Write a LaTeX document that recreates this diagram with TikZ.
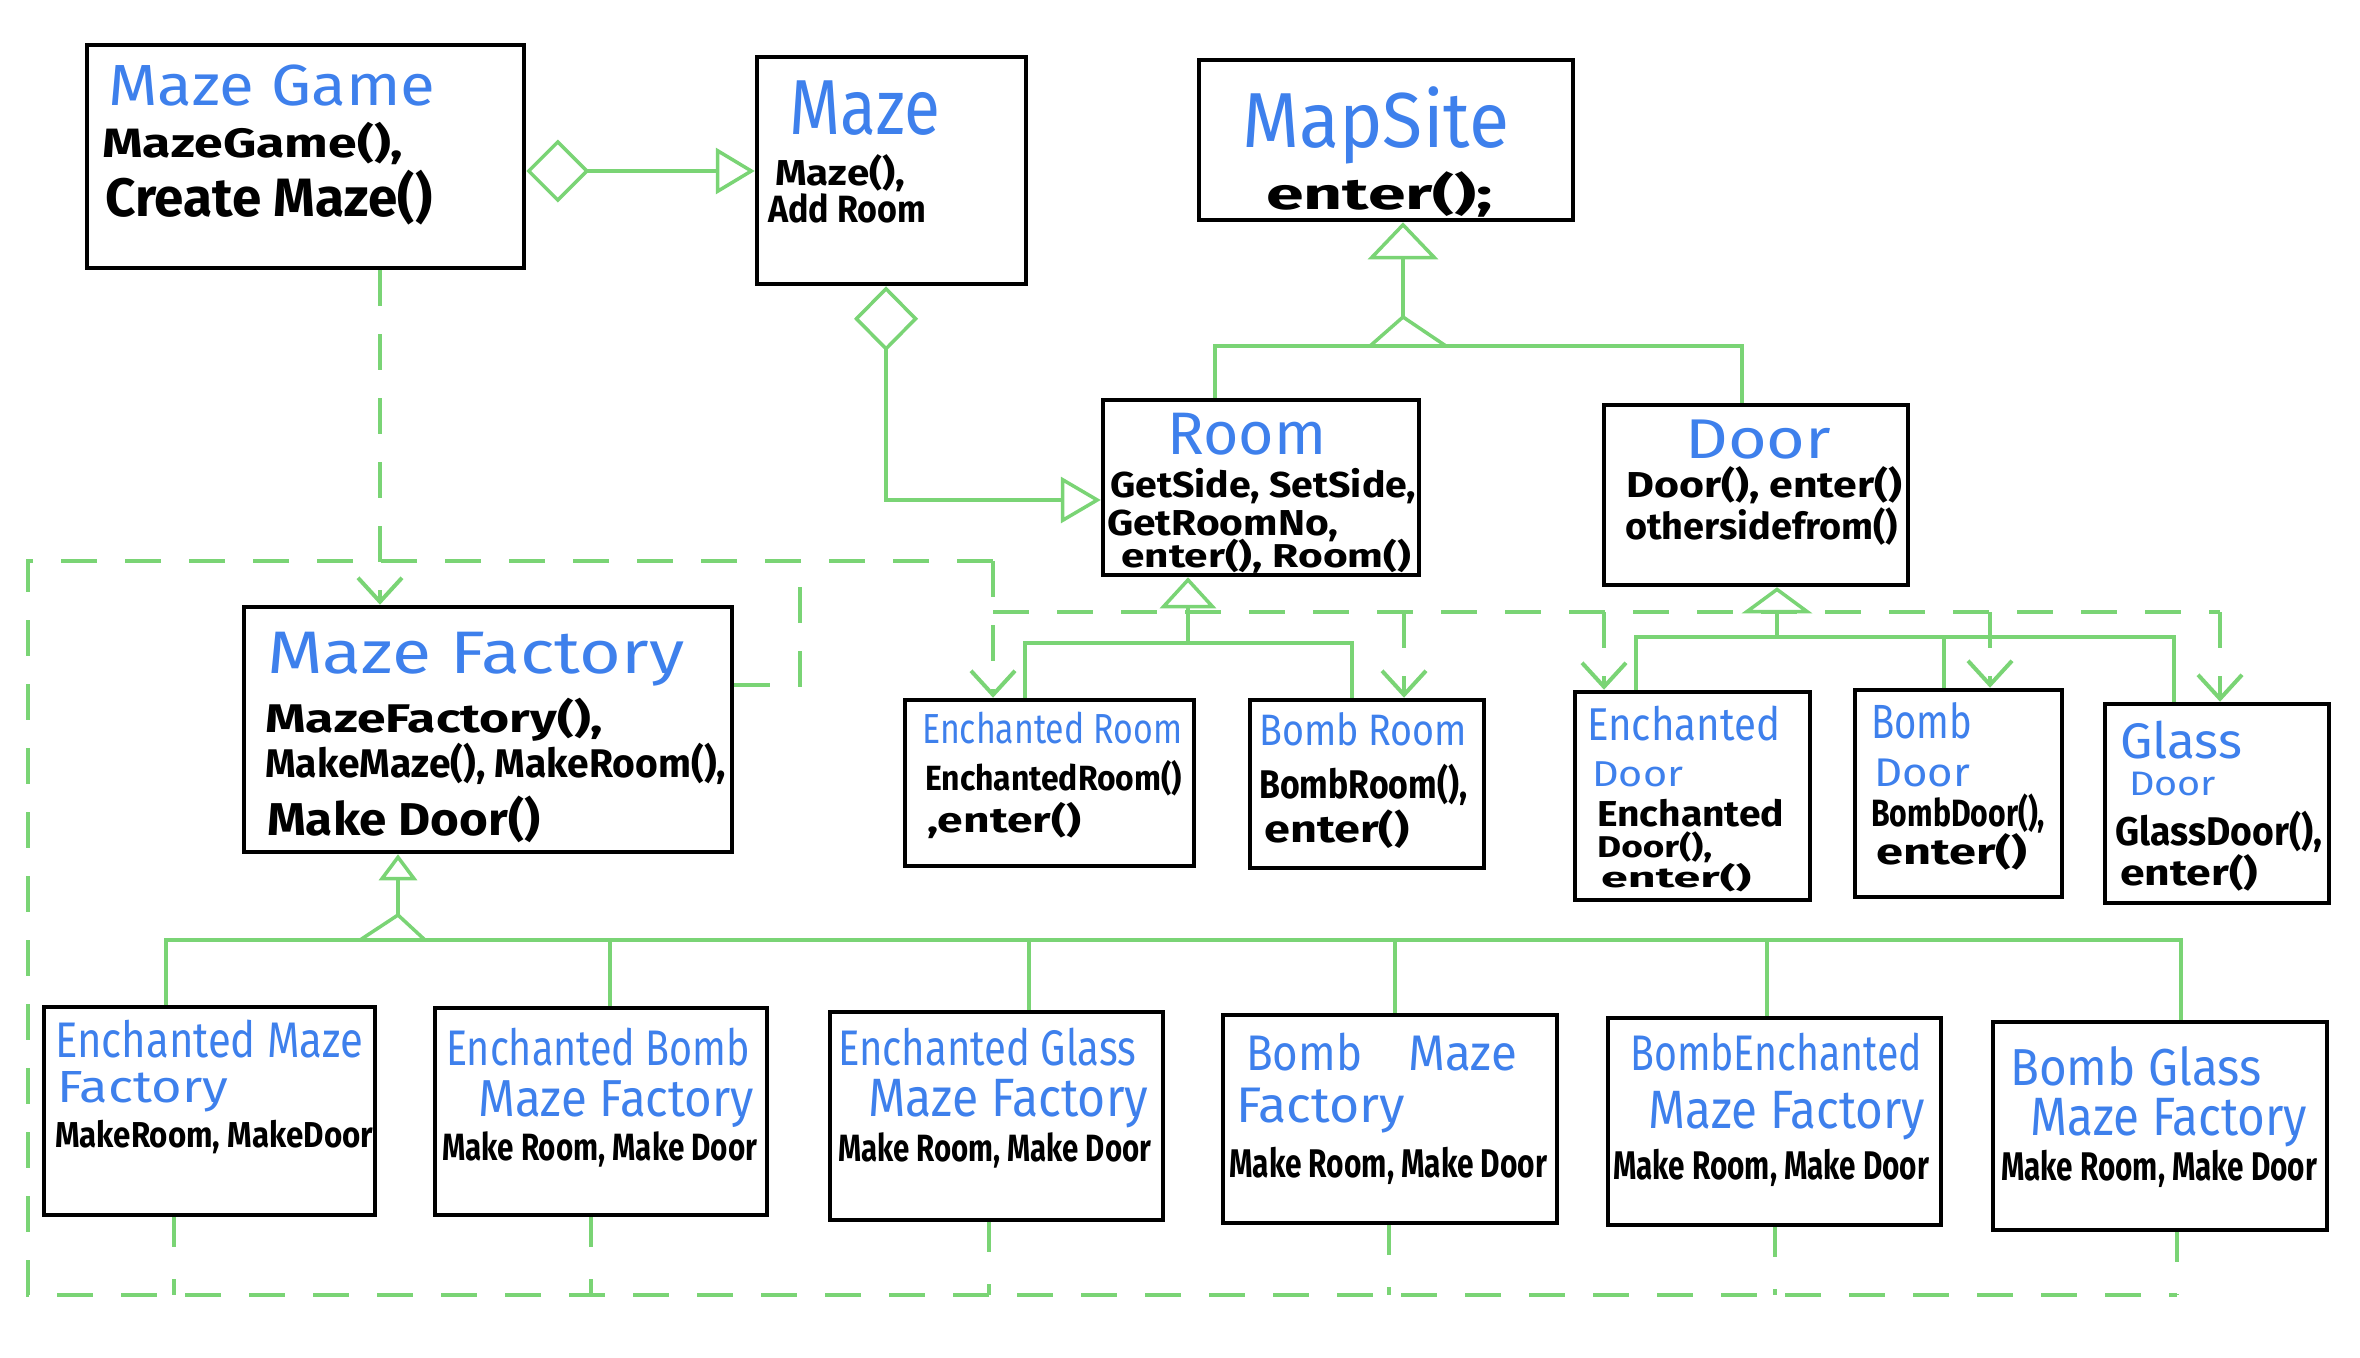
\documentclass[tikz,border=0pt]{standalone}
\usepackage{fontspec}
\setmainfont{Fira Sans}
\usepackage{graphicx}
\usetikzlibrary{arrows.meta,fit}
\definecolor{gr}{RGB}{122,212,117}
\definecolor{bl}{RGB}{62,128,236}
\newcommand{\hb}[6]{\node[txt, text=bl] (#1) at (#2,#3) {\resizebox{#4pt}{\height}{\fontsize{#5pt}{#5pt}\selectfont #6}};}
\newcommand{\hk}[6]{\node[txt, text=black] (#1) at (#2,#3) {\resizebox{#4pt}{\height}{\fontsize{#5pt}{#5pt}\selectfont\bfseries #6}};}
\begin{document}
\begin{tikzpicture}[x=1pt,y=-1pt]
\tikzset{
  txt/.style={anchor=base west, inner sep=0pt},
  umlbox/.style={draw=black, line width=4.5pt, inner sep=0pt},
  gline/.style={draw=gr, line width=3.5pt},
  dline/.style={draw=gr, line width=4pt, dash pattern=on 36pt off 28pt},
  dstub/.style={draw=gr, line width=3.5pt, dash pattern=on 30pt off 32pt},
  barb/.style={-{Straight Barb[length=24pt,width=44pt]}},
  tri/.style={-{Triangle[open,length=#1,width=70pt]}},
  tri/.default=30pt
}
\useasboundingbox (0,0) rectangle (2360,1357);

% ---------- boxes ----------
\node[umlbox, fit={(87,45) (524,268)}] (mg) {};
\node[umlbox, fit={(757,57) (1026,284)}] (mz) {};
\node[umlbox, fit={(1199,60) (1573,220)}] (ms) {};
\node[umlbox, fit={(1103,400) (1419,575)}] (room) {};
\node[umlbox, fit={(1604,405) (1908,585)}] (door) {};
\node[umlbox, fit={(244,607) (732,852)}] (mf) {};
\node[umlbox, fit={(905,700) (1194,866)}] (er) {};
\node[umlbox, fit={(1250,700) (1484,868)}] (br) {};
\node[umlbox, fit={(1575,692) (1810,900)}] (ed) {};
\node[umlbox, fit={(1855,690) (2062,897)}] (bd) {};
\node[umlbox, fit={(2105,704) (2329,903)}] (gd) {};
\node[umlbox, fit={(44,1007) (375,1215)}] (f1) {};
\node[umlbox, fit={(435,1008) (767,1215)}] (f2) {};
\node[umlbox, fit={(830,1012) (1163,1220)}] (f3) {};
\node[umlbox, fit={(1223,1015) (1557,1223)}] (f4) {};
\node[umlbox, fit={(1608,1018) (1941,1225)}] (f5) {};
\node[umlbox, fit={(1993,1022) (2327,1230)}] (f6) {};

% ---------- helper coordinates ----------
\coordinate (yMG) at (0,171);
\coordinate (xMZ) at (886,0);
\coordinate (yMZR) at (0,500);
\coordinate (jMS) at (1403,346);
\coordinate (tMS) at (1403,317);
\coordinate (xRm) at (1215,0);
\coordinate (xDr) at (1742,0);
\coordinate (jRm) at (1188,643);
\coordinate (xER) at (1025,0);
\coordinate (xBR) at (1352,0);
\coordinate (jDr) at (1777,637);
\coordinate (xED) at (1636,0);
\coordinate (hBD) at (1944,637);
\coordinate (xGD) at (2174,0);
\coordinate (jMF) at (398,940);
\coordinate (tMF) at (398,915);
\coordinate (hL) at (166,940);
\coordinate (h2) at (610,940);
\coordinate (h3) at (1029,940);
\coordinate (h4) at (1395,940);
\coordinate (h5) at (1767,940);
\coordinate (hR) at (2181,940);
\coordinate (dTL) at (28,561);
\coordinate (dTR) at (993,561);
\coordinate (dBL) at (28,1295);
\coordinate (dBR) at (2177,1295);
\coordinate (dMF) at (800,561);
\coordinate (yMFd) at (0,685);
\coordinate (dH1) at (993,612);
\coordinate (dH2) at (2220,612);
\coordinate (dBRm) at (1404,612);
\coordinate (dED) at (1604,612);
\coordinate (dBD) at (1990,612);
\coordinate (b1) at (174,1295);
\coordinate (b2) at (591,1295);
\coordinate (b3) at (989,1295);
\coordinate (b4) at (1389,1295);
\coordinate (b5) at (1775,1295);
\coordinate (xMG) at (380,0);

% ---------- dashed dependencies ----------
\draw[dline, barb] (mg.south -| xMG) -- (mf.north -| xMG);
\draw[dline] (mf.east |- yMFd) -| (dMF);
\draw[dline] (dTR) -- (dTL) -- (dBL) -- (dBR);
\draw[dline, barb] (dTR) -- (er.north -| dTR);
\draw[dline] (dH1) -- (dH2);
\draw[dline, barb] (dH2) -- (gd.north -| dH2);
\draw[dline, barb] (dBRm) -- (br.north -| dBRm);
\draw[dline, barb] (dED) -- (ed.north -| dED);
\draw[dline, barb] (dBD) -- (bd.north -| dBD);
\draw[dstub] (f1.south -| b1) -- (b1);
\draw[dstub] (f2.south -| b2) -- (b2);
\draw[dstub] (f3.south -| b3) -- (b3);
\draw[dstub] (f4.south -| b4) -- (b4);
\draw[dstub] (f5.south -| b5) -- (b5);
\draw[dstub] (f6.south -| dBR) -- (dBR);

% ---------- aggregations ----------
\draw[gline, {Diamond[open,length=63pt,width=63pt]}-{Triangle[open,length=39pt,width=46pt]}] (mg.east |- yMG) -- (mz.west |- yMG);
\draw[gline, {Diamond[open,length=65pt,width=64pt]}-{Triangle[open,length=40pt,width=46pt]}] (mz.south -| xMZ) |- (room.west |- yMZR);

% ---------- inheritance: MapSite ----------
\draw[gline] (room.north -| xRm) |- (jMS) -| (door.north -| xDr);
\draw[gline, tri=37pt] (tMS) -- (ms.south -| tMS);
\draw[gline] ([xshift=-33pt]jMS) -- (tMS) -- ([xshift=43pt]jMS);

% ---------- inheritance: Room ----------
\draw[gline] (er.north -| xER) |- (jRm) -| (br.north -| xBR);
\draw[gline, -{Triangle[open,length=31pt,width=56pt]}] (jRm) -- (room.south -| jRm);

% ---------- inheritance: Door ----------
\draw[gline] (ed.north -| xED) |- (jDr) -| (gd.north -| xGD);
\draw[gline] (hBD) -- (bd.north -| hBD);
\draw[gline, -{Triangle[open,length=26pt,width=70pt]}] (jDr) -- (door.south -| jDr);

% ---------- inheritance: Maze Factory ----------
\draw[gline] (f1.north -| hL) |- (hR) -- (f6.north -| hR);
\draw[gline] (h2) -- (f2.north -| h2);
\draw[gline] (h3) -- (f3.north -| h3);
\draw[gline] (h4) -- (f4.north -| h4);
\draw[gline] (h5) -- (f5.north -| h5);
\draw[gline, -{Triangle[open,length=26pt,width=38pt]}] (tMF) -- (mf.south -| tMF);
\draw[gline] ([xshift=-38pt]jMF) -- (tMF) -- ([xshift=27pt]jMF);

% ---------- texts ----------
\hb{t1}{108}{105}{327}{58}{Maze Game}
\hk{t2}{102}{157}{301}{41}{MazeGame(),}
\hk{t3}{105}{216}{327}{54}{Create Maze()}
\hb{t4}{789}{134}{151}{78}{Maze}
\hk{t5}{775}{185}{130}{36}{Maze(),}
\hk{t6}{768}{222}{158}{38}{Add Room}
\hb{t7}{1242}{147}{267}{78}{MapSite}
\hk{t8}{1266}{209}{227}{44}{enter();}
\hb{t9}{1167}{454}{159}{60}{Room}
\hk{t10}{1110}{497}{306}{36}{GetSide, SetSide,}
\hk{t11}{1107}{535}{231}{36}{GetRoomNo,}
\hk{t12}{1121}{567}{290}{33}{enter(), Room()}
\hb{t13}{1685}{458}{146}{56}{Door}
\hk{t14}{1626}{497}{276}{36}{Door(), enter()}
\hk{t15}{1625}{539}{273}{37}{othersidefrom()}
\hb{t16}{267}{673}{417}{60}{Maze Factory}
\hk{t17}{265}{732}{338}{40}{MazeFactory(),}
\hk{t18}{265}{777}{461}{40}{MakeMaze(), MakeRoom(),}
\hk{t19}{267}{835}{273}{46}{Make Door()}
\hb{t20}{922}{743}{260}{42}{Enchanted Room}
\hk{t21}{925}{790}{257}{35}{EnchantedRoom()}
\hk{t22}{927}{832}{154}{35}{,enter()}
\hb{t23}{1259}{745}{208}{44}{Bomb Room}
\hk{t24}{1259}{798}{208}{40}{BombRoom(),}
\hk{t25}{1264}{842}{145}{38}{enter()}
\hb{t26}{1587}{740}{193}{46}{Enchanted}
\hb{t27}{1592}{786}{91}{36}{Door}
\hk{t28}{1597}{826}{187}{36}{Enchanted}
\hk{t29}{1597}{857}{115}{30}{Door(),}
\hk{t30}{1601}{887}{150}{28}{enter()}
\hb{t31}{1871}{738}{101}{48}{Bomb}
\hb{t32}{1874}{786}{96}{40}{Door}
\hk{t33}{1871}{826}{174}{38}{BombDoor(),}
\hk{t34}{1876}{864}{151}{36}{enter()}
\hb{t35}{2120}{758}{122}{50}{Glass}
\hb{t36}{2129}{795}{87}{34}{Door}
\hk{t37}{2115}{845}{207}{40}{GlassDoor(),}
\hk{t38}{2120}{885}{138}{36}{enter()}
\hb{t39}{55}{1057}{308}{50}{Enchanted Maze}
\hb{t40}{57}{1102}{171}{45}{Factory}
\hk{t41}{55}{1147}{318}{36}{MakeRoom, MakeDoor}
\hb{t42}{446}{1065}{304}{50}{Enchanted Bomb}
\hb{t43}{478}{1116}{276}{52}{Maze Factory}
\hk{t44}{442}{1160}{315}{38}{Make Room, Make Door}
\hb{t45}{838}{1065}{298}{50}{Enchanted Glass}
\hb{t46}{868}{1116}{280}{54}{Maze Factory}
\hk{t47}{838}{1161}{313}{38}{Make Room, Make Door}
\hb{t48}{1246}{1070}{116}{50}{Bomb}
\hb{t49}{1408}{1070}{109}{50}{Maze}
\hb{t50}{1236}{1122}{169}{50}{Factory}
\hk{t51}{1229}{1177}{318}{40}{Make Room, Make Door}
\hb{t52}{1630}{1070}{292}{50}{BombEnchanted}
\hb{t53}{1648}{1128}{277}{54}{Maze Factory}
\hk{t54}{1613}{1179}{316}{40}{Make Room, Make Door}
\hb{t55}{2010}{1085}{251}{52}{Bomb Glass}
\hb{t56}{2030}{1135}{277}{54}{Maze Factory}
\hk{t57}{2001}{1180}{316}{40}{Make Room, Make Door}
\end{tikzpicture}
\end{document}
